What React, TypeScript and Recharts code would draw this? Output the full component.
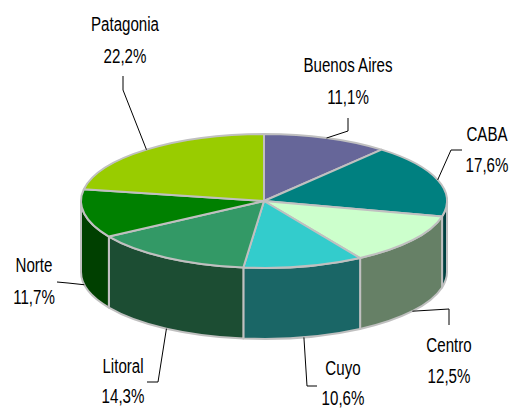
import React from 'react';
import { PieChart, Pie } from 'recharts';

const regions = ['Buenos Aires', 'CABA', 'Centro', 'Cuyo', 'Litoral', 'Norte', 'Patagonia'];
const shares = [11.1, 17.6, 12.5, 10.6, 14.3, 11.7, 22.2];
const topColors = ['#666699', '#008080', '#CCFFCC', '#33CCCC', '#339966', '#008000', '#99CC00'];
const wallColors = ['#333366', '#004040', '#668066', '#1A6666', '#1C4D33', '#004000', '#4D6600'];

const data = regions.map((name, i) => ({ name, value: shares[i], fill: topColors[i], wall: wallColors[i] }));

// label placement: text centre, name baseline, value baseline, leader line bend and end
const labelSpots = [
  { x: 348, y1: 72, y2: 104, bend: [348, 131], end: [348, 118] },
  { x: 487, y1: 141, y2: 172, bend: [451, 150], end: [462, 150] },
  { x: 449, y1: 352, y2: 383, bend: [449, 309], end: [449, 325] },
  { x: 343, y1: 375, y2: 405, bend: [307, 386], end: [317, 386] },
  { x: 123, y1: 373, y2: 403, bend: [158, 382], end: [147, 382] },
  { x: 34, y1: 272, y2: 304, bend: [68, 283], end: [57, 282] },
  { x: 125, y1: 31, y2: 63, bend: [123, 90], end: [123, 76] },
];

const SQUASH = 67 / 183;
const DEPTH = 71;
const EDGE = '#C0C0C0';
const RAD = Math.PI / 180;

const pt = (cx: number, cy: number, r: number, a: number) => [
  cx + r * Math.cos(a * RAD),
  cy - r * SQUASH * Math.sin(a * RAD),
];

const TopSlice = (props: any) => {
  const { cx, cy, outerRadius: r, startAngle, endAngle, fill } = props;
  const [x0, y0] = pt(cx, cy, r, startAngle);
  const [x1, y1] = pt(cx, cy, r, endAngle);
  const large = Math.abs(startAngle - endAngle) > 180 ? 1 : 0;
  const d = `M${cx},${cy} L${x0},${y0} A${r},${r * SQUASH} 0 ${large} 1 ${x1},${y1} Z`;
  return <path d={d} fill={fill} stroke={EDGE} strokeWidth={2} strokeLinejoin="round" />;
};

// only the part of the rim on the front half of the ellipse is visible
const WallSlice = (props: any) => {
  const { cx, cy, outerRadius: r, startAngle, endAngle, payload } = props;
  const from = Math.min(startAngle, 0);
  const to = Math.max(endAngle, -180);
  if (from <= to) return <g />;
  const [x0, y0] = pt(cx, cy, r, from);
  const [x1, y1] = pt(cx, cy, r, to);
  const ry = r * SQUASH;
  const d = `M${x0},${y0} A${r},${ry} 0 0 1 ${x1},${y1} L${x1},${y1 + DEPTH} A${r},${ry} 0 0 0 ${x0},${y0 + DEPTH} Z`;
  return <path d={d} fill={payload?.wall ?? props.wall} stroke={EDGE} strokeWidth={2} strokeLinejoin="round" />;
};

const SliceLabel = (props: any) => {
  const { cx, cy, outerRadius: r, midAngle, index, name, value } = props;
  const spot = labelSpots[index];
  const [sx, sy0] = pt(cx, cy, r, midAngle);
  const front = Math.sin(midAngle * RAD) < 0;
  const sy = front ? sy0 + DEPTH : sy0;
  const textProps = {
    textAnchor: 'middle' as const,
    fontFamily: '"Liberation Sans", Arial, sans-serif',
    fontSize: 21,
    fill: '#000000',
  };
  return (
    <g>
      <polyline
        points={`${sx},${sy} ${spot.bend[0]},${spot.bend[1]} ${spot.end[0]},${spot.end[1]}`}
        fill="none"
        stroke="#000000"
        strokeWidth={1}
      />
      <text transform={`translate(${spot.x},${spot.y1}) scale(0.72,1)`} {...textProps}>{name}</text>
      <text transform={`translate(${spot.x},${spot.y2}) scale(0.72,1)`} {...textProps}>
        {value.toFixed(1).replace('.', ',') + '%'}
      </text>
    </g>
  );
};

const App: React.FC = () => (
  <div style={{ position: 'absolute', left: 0, top: 0, width: 511, height: 410, background: '#FFFFFF' }}>
    <PieChart width={511} height={410} margin={{ top: 0, right: 0, bottom: 0, left: 0 }}>
      <Pie
        data={data}
        dataKey="value"
        nameKey="name"
        cx={264}
        cy={201}
        outerRadius={183}
        startAngle={90}
        endAngle={-270}
        shape={WallSlice}
        isAnimationActive={false}
      />
      <Pie
        data={data}
        dataKey="value"
        nameKey="name"
        cx={264}
        cy={201}
        outerRadius={183}
        startAngle={90}
        endAngle={-270}
        shape={TopSlice}
        label={SliceLabel}
        labelLine={false}
        isAnimationActive={false}
      />
    </PieChart>
  </div>
);

export default App;
